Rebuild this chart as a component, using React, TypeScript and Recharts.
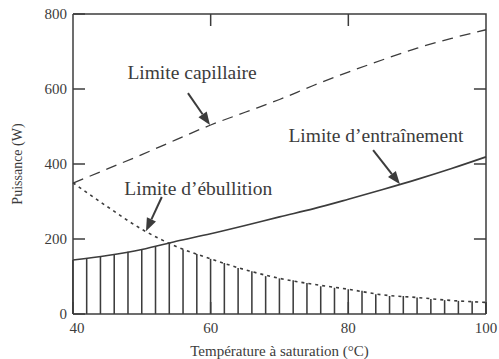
import { ComposedChart, Bar, Line, XAxis, YAxis, ReferenceLine, ReferenceDot } from "recharts"

const lineTemps = [40, 45, 50, 55, 60, 65, 70, 75, 80, 85, 90, 95, 100]
const capillaire = [349, 387, 425, 465, 504, 538, 572, 610, 645, 678, 709, 735, 758]
const entrainement = [144, 156, 172, 194, 214, 236, 259, 281, 306, 332, 359, 388, 419]
const ebullition = [350, 286, 226, 180, 147, 118, 95, 79, 66, 51, 44, 36, 31]

const hatchTemps = [40, 42, 44, 46, 48, 50, 52, 54, 56, 58, 60, 62, 64, 66, 68, 70, 72, 74, 76, 78, 80, 82, 84, 86, 88, 90, 92, 94, 96, 98, 100]
const hatchTops = [144, 147, 153, 160, 166, 172, 181, 190, 172, 160, 147, 136, 123, 114, 101, 95, 90, 83, 74, 70, 66, 62, 53, 48, 48, 44, 40, 37, 35, 34, 31]

const xTicks = [40, 60, 80, 100]
const yTicks = [0, 200, 400, 600, 800]

const ink = "#3c3c3c"
const serif = "'Liberation Serif', 'DejaVu Serif', serif"

const lineData = lineTemps.map((t, i) => ({ temp: t, cap: capillaire[i], ent: entrainement[i], ebu: ebullition[i] }))
const hatchData = hatchTemps.map((t, i) => ({ temp: t, top: hatchTops[i] }))

// annotations in data units: text centre, arrow start and tip
const notes = [
  { text: "Limite capillaire", at: [57.3, 643], from: [56.7, 589], to: [59.9, 504] },
  { text: "Limite d\u2019\u00e9bullition", at: [58.2, 333], from: [52.9, 312], to: [50.6, 221] },
  { text: "Limite d\u2019entra\u00eenement", at: [84.0, 475], from: [83.6, 437], to: [87.5, 346] },
]

// top and right sides of the frame with inward ticks (~12px), as one broken path in data units
const xMin = xTicks[0], xMax = xTicks[xTicks.length - 1]
const yMax = yTicks[yTicks.length - 1]
const tickLenX = 1.75
const tickLenY = 32
const frameData: { temp: number; v: number | null }[] = [
  { temp: xMin, v: yMax },
  { temp: xMax, v: yMax },
  { temp: xMax, v: 0 },
  { temp: xMax, v: null },
]
xTicks.slice(1, -1).forEach((t) => {
  frameData.push({ temp: t, v: yMax }, { temp: t, v: yMax - tickLenY }, { temp: t, v: null })
})
yTicks.slice(1, -1).forEach((v) => {
  frameData.push({ temp: xMax, v }, { temp: xMax - tickLenX, v }, { temp: xMax, v: null })
})

function Arrow(props: any) {
  const { x1, y1, x2, y2 } = props
  const a = Math.atan2(y2 - y1, x2 - x1)
  const c = Math.cos(a), s = Math.sin(a)
  const len = 13, half = 5
  const bx = x2 - len * c, by = y2 - len * s
  return (
    <g>
      <line x1={x1} y1={y1} x2={bx} y2={by} stroke={ink} strokeWidth={2} />
      <polygon points={`${x2},${y2} ${bx - s * half},${by + c * half} ${bx + s * half},${by - c * half}`} fill={ink} />
    </g>
  )
}

function XTick(props: any) {
  const { x, y, payload } = props
  const dx = payload.value === 40 ? 4 : 0
  return (
    <text x={x + dx} y={y} dy={12} textAnchor="middle" fontSize={15} fontFamily={serif} fill={ink}>
      {payload.value}
    </text>
  )
}

const axisStroke = { stroke: ink, strokeWidth: 1.5 }

export default function App() {
  return (
    <div style={{ position: "absolute", left: 0, top: 0, background: "#fff" }}>
      <ComposedChart width={499} height={359} data={hatchData} margin={{ top: 14, right: 13, bottom: 0, left: 0 }}>
        <XAxis
          dataKey="temp"
          type="number"
          domain={[40, 100]}
          ticks={xTicks}
          height={45}
          tickSize={-12}
          tickMargin={19}
          tick={<XTick />}
          axisLine={axisStroke}
          tickLine={axisStroke}
          label={{ value: "Temp\u00e9rature \u00e0 saturation (\u00b0C)", position: "insideBottom", offset: 3, fontSize: 15, fontFamily: serif, fill: ink }}
        />
        <YAxis
          type="number"
          domain={[0, 800]}
          ticks={yTicks}
          width={73}
          tickSize={-12}
          tickMargin={18}
          tick={{ fontSize: 15, fontFamily: serif, fill: ink }}
          axisLine={axisStroke}
          tickLine={axisStroke}
          label={{ value: "Puissance (W)", angle: -90, position: "insideLeft", offset: 17, fontSize: 14, fontFamily: serif, fill: ink, style: { textAnchor: "middle" } }}
        />
        <Bar dataKey="top" barSize={2} fill={ink} isAnimationActive={false} />
        <Line data={frameData} dataKey="v" type="linear" stroke={ink} strokeWidth={1.5} dot={false} activeDot={false} legendType="none" isAnimationActive={false} />
        <Line data={lineData} dataKey="cap" type="monotone" stroke={ink} strokeWidth={1.3} strokeDasharray="11 7" dot={false} isAnimationActive={false} />
        <Line data={lineData} dataKey="ent" type="monotone" stroke={ink} strokeWidth={1.6} dot={false} isAnimationActive={false} />
        <Line data={lineData} dataKey="ebu" type="monotone" stroke={ink} strokeWidth={1.6} strokeDasharray="3 4" dot={false} isAnimationActive={false} />
        {notes.map((n) => (
          <ReferenceLine
            key={n.text + "-arrow"}
            segment={[{ x: n.from[0], y: n.from[1] }, { x: n.to[0], y: n.to[1] }]}
            shape={(p: any) => <Arrow {...p} />}
          />
        ))}
        {notes.map((n) => (
          <ReferenceDot
            key={n.text}
            x={n.at[0]}
            y={n.at[1]}
            r={0}
            shape={(p: any) => (
              <text x={p.cx} y={p.cy} dy={6} textAnchor="middle" fontSize={19.5} fontFamily={serif} fill={ink}>
                {n.text}
              </text>
            )}
          />
        ))}
      </ComposedChart>
    </div>
  )
}
